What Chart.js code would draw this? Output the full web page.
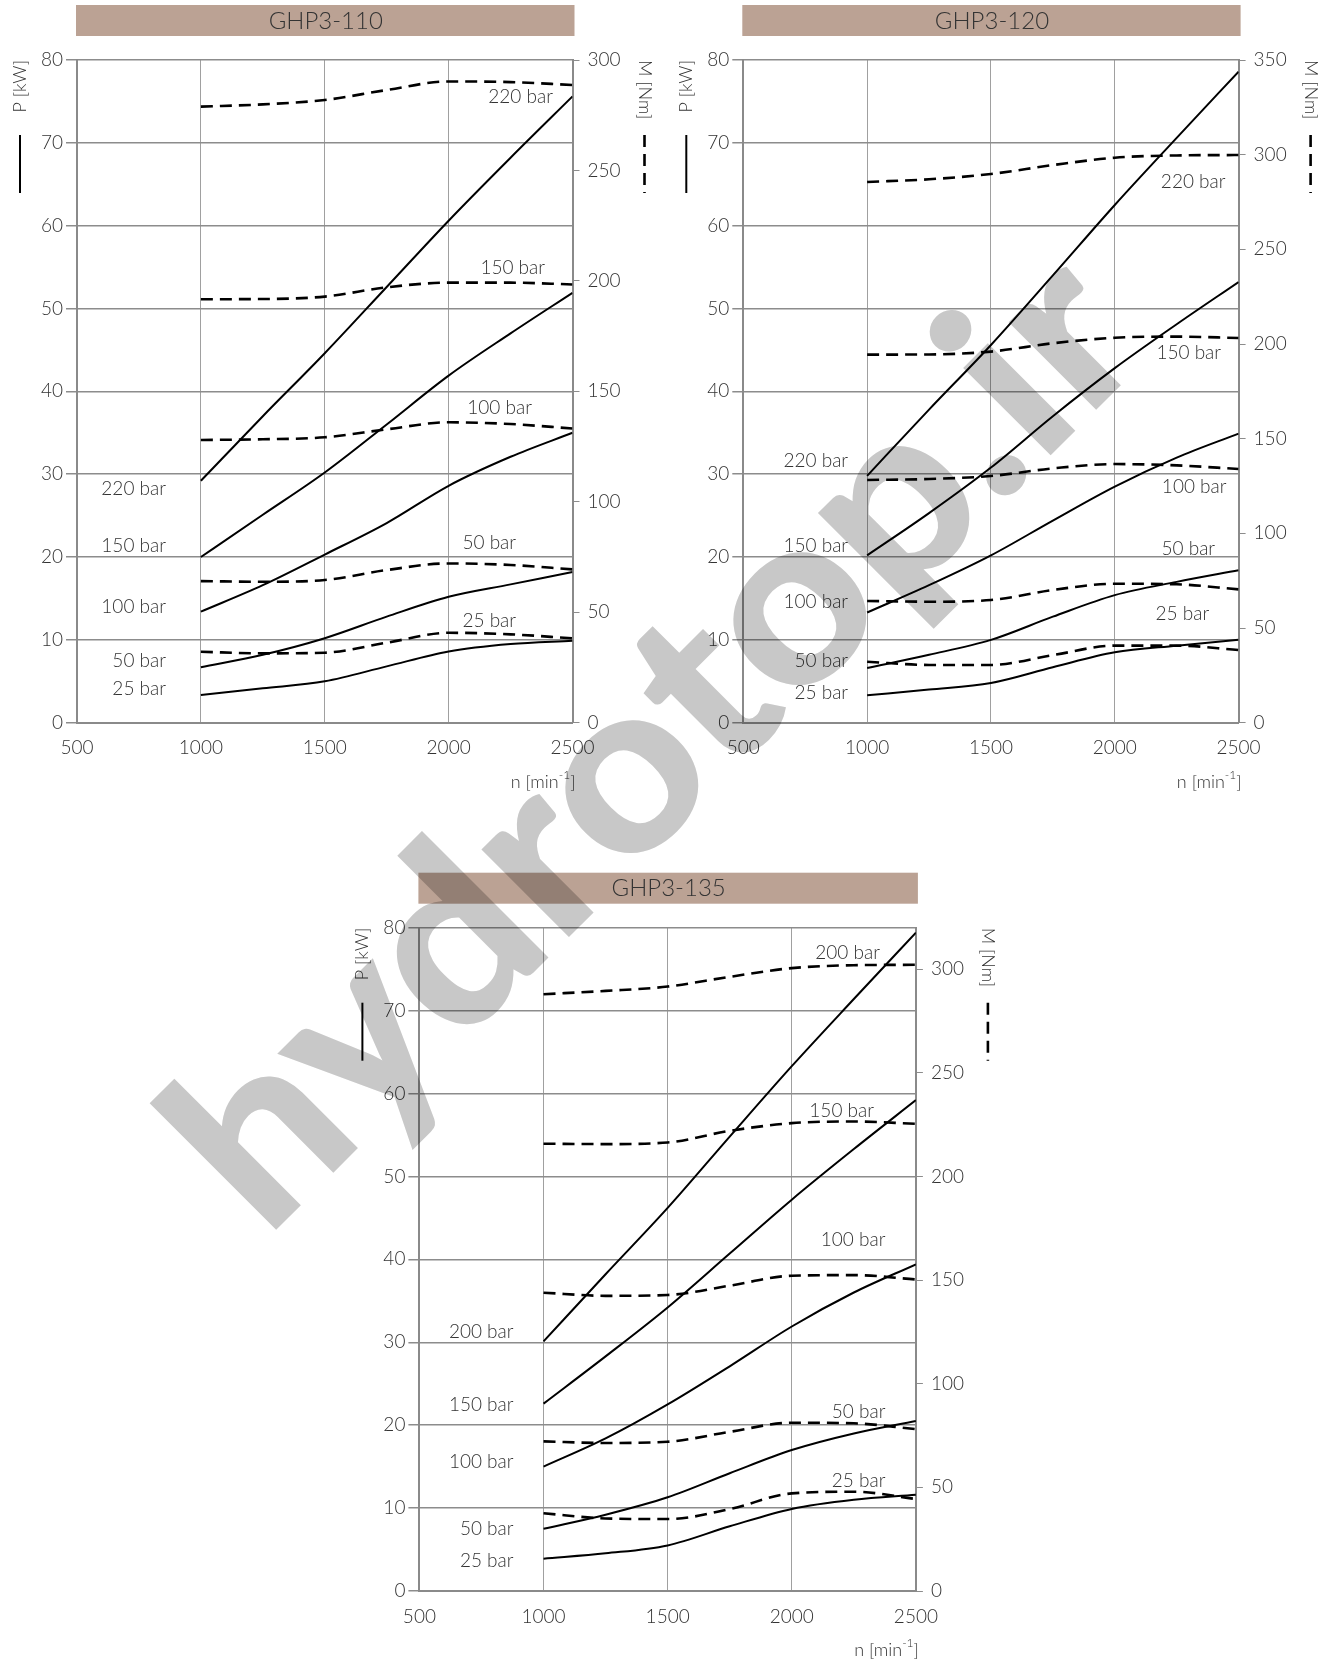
<!DOCTYPE html>
<html>
<head>
<meta charset="utf-8">
<script src="https://cdn.jsdelivr.net/npm/chart.js@4/dist/chart.umd.min.js"></script>
<style>
  body { margin: 0; background: #fff; width: 1337px; height: 1660px; position: relative; overflow: hidden; }
  canvas.chart { position: absolute; }
  #wm { position: absolute; left: 0; top: 0; mix-blend-mode: multiply; pointer-events: none; }
</style>
</head>
<body>
<canvas class="chart" id="c110" width="668" height="800" style="left:0;top:0"></canvas>
<canvas class="chart" id="c120" width="669" height="800" style="left:668px;top:0"></canvas>
<canvas class="chart" id="c135" width="670" height="800" style="left:340px;top:860px"></canvas>
<canvas id="wm" width="1337" height="1660"></canvas>
<script>
// speed n [min-1]
const rpm = [1000, 1250, 1500, 1750, 2000, 2250, 2500];

const bars110 = ['220 bar', '150 bar', '100 bar', '50 bar', '25 bar'];
const bars120 = ['220 bar', '150 bar', '100 bar', '50 bar', '25 bar'];
const bars135 = ['200 bar', '150 bar', '100 bar', '50 bar', '25 bar'];

// power P [kW], one row per pressure
const power110 = [
  [29.2, 37.0, 44.6, 52.6, 60.6, 68.2, 75.6],
  [20.0, 25.1, 30.2, 36.0, 41.9, 47.0, 51.9],
  [13.4, 16.6, 20.3, 24.1, 28.6, 32.1, 35.0],
  [6.7, 8.2, 10.2, 12.8, 15.2, 16.7, 18.2],
  [3.35, 4.15, 5.0, 6.8, 8.6, 9.5, 9.9]
];
const power120 = [
  [29.8, 37.8, 45.6, 54.0, 62.5, 70.6, 78.6],
  [20.2, 25.3, 30.8, 37.0, 42.8, 48.1, 53.2],
  [13.3, 16.6, 20.2, 24.4, 28.5, 32.0, 34.9],
  [6.6, 8.2, 10.0, 12.8, 15.4, 17.0, 18.4],
  [3.3, 4.0, 4.8, 6.7, 8.5, 9.3, 10.0]
];
const power135 = [
  [30.1, 38.2, 46.2, 54.8, 63.3, 71.4, 79.4],
  [22.6, 28.3, 34.2, 40.7, 47.2, 53.3, 59.2],
  [15.0, 18.4, 22.5, 27.1, 31.9, 36.0, 39.4],
  [7.5, 9.2, 11.3, 14.2, 17.0, 19.0, 20.5],
  [3.9, 4.55, 5.5, 7.8, 9.9, 11.0, 11.6]
];

// torque M [Nm], one row per pressure
const torque110 = [
  [278.9, 279.9, 281.9, 286.4, 290.3, 290.0, 288.7],
  [191.7, 191.8, 192.9, 197.1, 199.2, 199.2, 198.4],
  [128.0, 128.3, 129.2, 132.8, 136.0, 135.2, 133.2],
  [64.1, 63.8, 64.6, 69.1, 72.1, 71.4, 69.4],
  [32.1, 31.4, 31.7, 36.2, 40.7, 40.0, 38.2]
];
const torque120 = [
  [285.6, 287.0, 289.8, 294.5, 298.4, 299.6, 299.8],
  [194.4, 194.5, 196.0, 200.4, 203.3, 203.9, 203.2],
  [128.2, 128.7, 130.3, 134.3, 136.6, 135.9, 134.0],
  [64.3, 63.9, 64.8, 70.1, 73.4, 73.1, 70.4],
  [32.2, 30.5, 30.5, 35.7, 40.7, 40.7, 38.4]
];
const torque135 = [
  [287.9, 289.5, 291.6, 296.3, 300.5, 301.9, 302.1],
  [215.8, 215.6, 216.4, 222.0, 225.7, 226.5, 225.4],
  [143.9, 142.4, 142.8, 147.3, 152.1, 152.4, 150.3],
  [72.2, 71.4, 72.0, 76.8, 81.2, 80.9, 78.1],
  [37.5, 35.0, 34.7, 39.5, 47.1, 47.9, 44.4]
];

const FONT = 'Lato, "Open Sans", sans-serif';
const INK = '#333';

// titles, axis labels, curve labels (label anchors are in data units)
const decor = {
  id: 'decor',
  beforeDraw(chart, args, o) {
    const { ctx, chartArea: a } = chart;
    ctx.save();
    ctx.fillStyle = '#bba294';
    ctx.fillRect(a.left - 1, a.top - 55, a.right - a.left + 3, 31);
    ctx.fillStyle = INK;
    ctx.font = '300 24px ' + FONT;
    ctx.textAlign = 'center';
    ctx.textBaseline = 'middle';
    ctx.fillText(o.title, (a.left + a.right) / 2 + 1, a.top - 39);
    ctx.restore();
  },
  afterDatasetsDraw(chart, args, o) {
    const { ctx, chartArea: a, scales } = chart;
    ctx.save();
    ctx.fillStyle = INK;
    ctx.font = '300 19px ' + FONT;
    ctx.textAlign = 'right';
    ctx.textBaseline = 'middle';
    o.right.forEach((pt, i) => {
      ctx.fillText(o.bars[i], scales.x.getPixelForValue(pt[0]), scales.y.getPixelForValue(pt[1]));
    });
    o.left.forEach((p, i) => {
      ctx.fillText(o.bars[i], scales.x.getPixelForValue(o.leftAt), scales.y.getPixelForValue(p));
    });

    // P [kW] with solid sample
    ctx.font = '300 18px ' + FONT;
    ctx.save();
    ctx.translate(a.left - 57, a.top);
    ctx.rotate(-Math.PI / 2);
    ctx.textAlign = 'right';
    ctx.fillText('P [kW]', 0, 0);
    ctx.restore();
    ctx.strokeStyle = '#000';
    ctx.lineWidth = 2;
    ctx.beginPath();
    ctx.moveTo(a.left - 57, a.top + 75);
    ctx.lineTo(a.left - 57, a.top + 133);
    ctx.stroke();

    // M [Nm] with dashed sample
    ctx.save();
    ctx.translate(a.right + 72, a.top);
    ctx.rotate(Math.PI / 2);
    ctx.textAlign = 'left';
    ctx.fillText('M [Nm]', 0, 0);
    ctx.restore();
    ctx.lineWidth = 2.6;
    ctx.setLineDash([12, 7]);
    ctx.beginPath();
    ctx.moveTo(a.right + 72, a.top + 75);
    ctx.lineTo(a.right + 72, a.top + 133);
    ctx.stroke();
    ctx.setLineDash([]);

    // n [min-1]
    const y = a.bottom + 59;
    ctx.textAlign = 'left';
    ctx.font = '300 18px ' + FONT;
    const w1 = ctx.measureText('n [min').width;
    const w3 = ctx.measureText(']').width;
    ctx.font = '300 12px ' + FONT;
    const w2 = ctx.measureText('-1').width;
    const x = a.right + 3 - w1 - w2 - w3;
    ctx.font = '300 18px ' + FONT;
    ctx.fillText('n [min', x, y);
    ctx.font = '300 12px ' + FONT;
    ctx.fillText('-1', x + w1, y - 7);
    ctx.font = '300 18px ' + FONT;
    ctx.fillText(']', x + w1 + w2, y);
    ctx.restore();
  }
};

function makeChart(id, c) {
  const datasets = [];
  c.power.forEach((row, i) => datasets.push({
    label: 'P ' + c.bars[i],
    data: row.map((v, k) => ({ x: rpm[k], y: v })),
    yAxisID: 'y',
    borderColor: '#000',
    borderWidth: 2,
    pointRadius: 0,
    cubicInterpolationMode: 'monotone'
  }));
  c.torque.forEach((row, i) => datasets.push({
    label: 'M ' + c.bars[i],
    data: row.map((v, k) => ({ x: rpm[k], y: v })),
    yAxisID: 'm',
    borderColor: '#000',
    borderWidth: 2.6,
    borderDash: [12, 7],
    pointRadius: 0,
    cubicInterpolationMode: 'monotone'
  }));

  const tickFont = { family: FONT, size: 19, weight: '300' };
  return new Chart(document.getElementById(id), {
    type: 'line',
    data: { datasets },
    options: {
      responsive: false,
      animation: false,
      devicePixelRatio: 1,
      events: [],
      layout: { padding: { top: c.top } },
      plugins: {
        legend: { display: false },
        tooltip: { enabled: false },
        decor: { title: c.title, bars: c.bars, right: c.rightLabels, left: c.leftLabels, leftAt: c.leftAt }
      },
      scales: {
        x: {
          type: 'linear', min: 500, max: 2500,
          ticks: { stepSize: 500, color: INK, font: tickFont, padding: 14, maxRotation: 0, callback: v => String(v) },
          grid: { color: '#a0a0a0', lineWidth: 1, drawTicks: false },
          border: { color: '#8a8a8a', width: 2 },
          afterFit: s => { s.height = c.bottom; }
        },
        y: {
          position: 'left', min: 0, max: 80,
          ticks: { stepSize: 10, color: INK, font: tickFont, padding: 3 },
          grid: { color: '#8c8c8c', lineWidth: 1.5, tickLength: 11 },
          border: { color: '#8a8a8a', width: 2 },
          afterFit: s => { s.width = c.leftW; }
        },
        m: {
          position: 'right', min: 0, max: c.mMax,
          ticks: { stepSize: 50, color: INK, font: tickFont, padding: 8 },
          grid: { drawOnChartArea: false, color: '#8c8c8c', tickLength: 7 },
          border: { color: '#8a8a8a', width: 2 },
          afterBuildTicks: s => { s.ticks = s.ticks.filter(t => t.value % 50 === 0); },
          afterFit: s => { s.width = c.rightW; }
        }
      }
    },
    plugins: [decor]
  });
}

makeChart('c110', {
  title: 'GHP3-110', bars: bars110, power: power110, torque: torque110, mMax: 300,
  top: 60, bottom: 77.3, leftW: 77, rightW: 95.5,
  rightLabels: [[2421, 75.5], [2389, 54.9], [2336, 38.0], [2272, 21.7], [2272, 12.3]],
  leftAt: 859, leftLabels: [28.2, 21.3, 14.0, 7.5, 4.1]
});
makeChart('c120', {
  title: 'GHP3-120', bars: bars120, power: power120, torque: torque120, mMax: 350,
  top: 60, bottom: 77.3, leftW: 75.3, rightW: 98.4,
  rightLabels: [[2447, 65.3], [2429, 44.7], [2451, 28.5], [2405, 21.0], [2381, 13.1]],
  leftAt: 923, leftLabels: [31.6, 21.3, 14.6, 7.5, 3.6]
});
makeChart('c135', {
  title: 'GHP3-135', bars: bars135, power: power135, torque: torque135, mMax: 320,
  top: 67.7, bottom: 69, leftW: 79.4, rightW: 94.1,
  rightLabels: [[2355, 77.0], [2331, 57.9], [2377, 42.3], [2377, 21.6], [2377, 13.3]],
  leftAt: 879, leftLabels: [31.2, 22.4, 15.6, 7.5, 3.6]
});

// watermark
const wm = document.getElementById('wm').getContext('2d');
const mark = 'hydrotop.ir';
wm.fillStyle = '#c8c8c8';
wm.font = '900 240px ' + FONT;
const mw = wm.measureText(mark).width;
wm.translate(266, 1240);
wm.rotate(-Math.PI / 4);
wm.scale(1255 / mw, 1);
wm.fillText(mark, 0, 0);
</script>
</body>
</html>
